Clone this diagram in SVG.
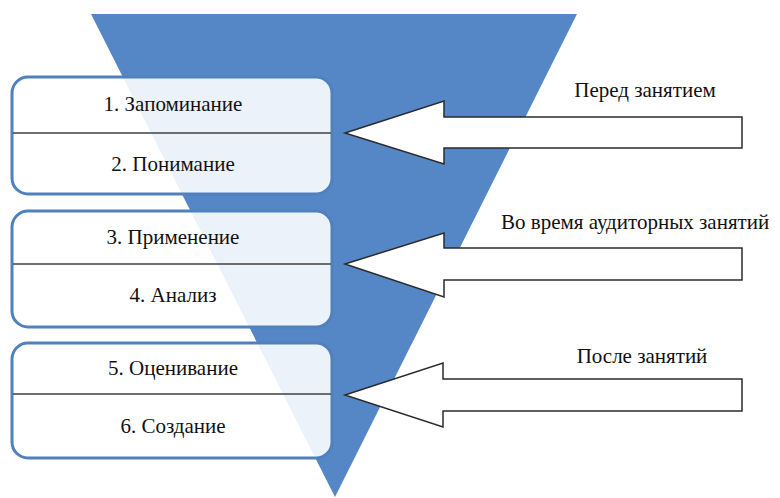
<svg xmlns="http://www.w3.org/2000/svg" width="780" height="498" viewBox="0 0 780 498">
<style>
.box{fill:#ffffff;fill-opacity:0.89;stroke:#4f81bd;stroke-width:3}
.div{stroke:#404040;stroke-width:1.5}
.arrow{fill:#ffffff;stroke:#2b2b2b;stroke-width:1.5;stroke-linejoin:miter}
.t{font-family:'Liberation Serif','Times New Roman',serif;font-size:21px;fill:#111111}
.c{text-anchor:middle}
</style>
<rect width="780" height="498" fill="#ffffff"/>
<polygon id="funnel" points="91,14 577,14 335,497" fill="#5587c7"/>
<g id="connectors">
<polygon class="arrow" points="345,133 444,101 444,117 742,117 742,148 444,148 444,164"/>
<polygon class="arrow" points="345,264 444,233 444,248 742,248 742,280 444,280 444,297"/>
<polygon class="arrow" points="345,395 443,363 443,379 742,379 742,411 443,411 443,427"/>
</g>
<g id="box1">
<rect class="box" x="12" y="77" width="320" height="117" rx="16"/>
<line class="div" x1="13" y1="133" x2="331" y2="133"/>
<text class="t c" x="173" y="111">1. Запоминание</text>
<text class="t c" x="173" y="171">2. Понимание</text>
</g>
<g id="box2">
<rect class="box" x="12" y="211" width="320" height="116" rx="16"/>
<line class="div" x1="13" y1="264" x2="331" y2="264"/>
<text class="t c" x="173" y="244">3. Применение</text>
<text class="t c" x="173" y="302">4. Анализ</text>
</g>
<g id="box3">
<rect class="box" x="12" y="343" width="320" height="115" rx="16"/>
<line class="div" x1="13" y1="394" x2="331" y2="394"/>
<text class="t c" x="173" y="375">5. Оценивание</text>
<text class="t c" x="173" y="433">6. Создание</text>
</g>
<g id="labels">
<text class="t c" x="645" y="97">Перед занятием</text>
<text class="t" x="501" y="229">Во время аудиторных занятий</text>
<text class="t c" x="642" y="363">После занятий</text>
</g>
</svg>
